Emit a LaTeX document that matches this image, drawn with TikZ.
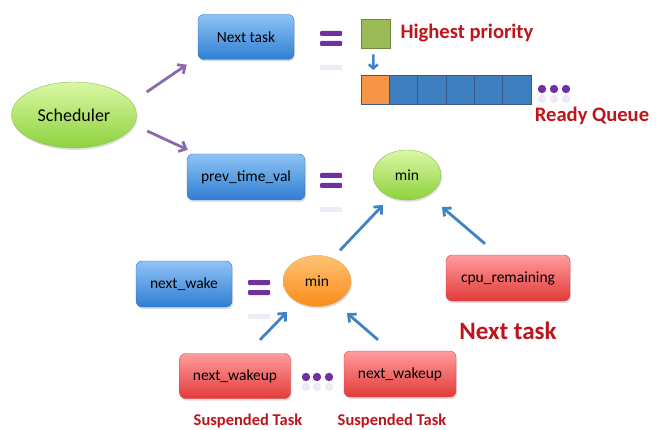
\documentclass[tikz,border=0pt]{standalone}
\usepackage{fontspec}
\setmainfont{Carlito}
\usetikzlibrary{shapes.geometric,arrows.meta,shadows}
\definecolor{purpA}{HTML}{8A6AAB}
\definecolor{purpEq}{HTML}{7030A0}
\definecolor{purpFaint}{HTML}{EEEBF4}
\definecolor{arrBlue}{HTML}{3F83C4}
\definecolor{redTxt}{HTML}{C0141C}
\definecolor{blueEdge}{HTML}{3A78C2}
\definecolor{qEdge}{HTML}{375B86}
\definecolor{blueTop}{HTML}{8FC3F5}
\definecolor{blueBot}{HTML}{2F7ED3}
\definecolor{redEdge}{HTML}{D04848}
\definecolor{redTop}{HTML}{FF9C9C}
\definecolor{redBot}{HTML}{E33A3A}
\definecolor{greenEdge}{HTML}{8CC04A}
\definecolor{greenTop}{HTML}{D9F8A4}
\definecolor{greenBot}{HTML}{8ED23E}
\definecolor{orangeEdge}{HTML}{F0A040}
\definecolor{orangeTop}{HTML}{FFC272}
\definecolor{orangeBot}{HTML}{F98C1A}
\definecolor{qBlue}{HTML}{3E7FBF}
\definecolor{qOrange}{HTML}{F79646}
\definecolor{hpGreen}{HTML}{9BBB59}
\definecolor{hpEdge}{HTML}{71893F}
\begin{document}
\begin{tikzpicture}[x=1pt,y=-1pt,
  shd/.style={drop shadow={opacity=0.25,shadow xshift=1pt,shadow yshift=-2pt}},
  bluebox/.style={rectangle,rounded corners=6pt,draw=blueEdge,top color=blueTop,bottom color=blueBot,
     minimum height=46pt,font=\fontsize{15.5}{18}\selectfont,shd},
  redbox/.style={rectangle,rounded corners=6pt,draw=redEdge,top color=redTop,bottom color=redBot,
     minimum height=46pt,font=\fontsize{15.5}{18}\selectfont,shd},
  greenell/.style={ellipse,draw=greenEdge,top color=greenTop,bottom color=greenBot,inner sep=0pt,shd},
  orangeell/.style={ellipse,draw=orangeEdge,top color=orangeTop,bottom color=orangeBot,inner sep=0pt,shd},
  parrow/.style={draw=purpA,line width=2.8pt,-{Straight Barb[length=6pt,width=11pt]}},
  barrow/.style={draw=arrBlue,line width=2.8pt,-{Straight Barb[length=6pt,width=11pt]}},
  redlbl/.style={text=redTxt,font=\bfseries},
  qcell/.style={rectangle,draw=qEdge,line width=0.8pt,fill=qBlue,minimum width=28.33pt,minimum height=29pt,inner sep=0pt,outer sep=0pt},
  eqbar/.style={fill=purpEq,rounded corners=1pt},
  dotc/.style={fill=purpEq},
]
\useasboundingbox (0,0) rectangle (663,430);

% nodes
\node[greenell,minimum width=125pt,minimum height=66pt,font=\fontsize{18}{21}\selectfont] (sched) at (74,115) {Scheduler};
\node[bluebox,minimum width=96pt,minimum height=45pt] (nt) at (246,37) {Next task};
\node[bluebox,minimum width=118pt] (ptv) at (246,177) {prev\_time\_val};
\node[bluebox,minimum width=96pt] (nw) at (184,284) {next\_wake};
\node[redbox,minimum width=124pt] (cpu) at (508,278) {cpu\_remaining};
\node[redbox,minimum width=111pt,minimum height=45pt] (nwu1) at (235,376) {next\_wakeup};
\node[redbox,minimum width=112pt] (nwu2) at (400,374) {next\_wakeup};
\node[greenell,minimum width=68pt,minimum height=50pt,font=\fontsize{15.5}{18}\selectfont] (min1) at (407,175) {min};
\node[orangeell,minimum width=68pt,minimum height=51pt,font=\fontsize{15.5}{18}\selectfont] (min2) at (317,281) {min};

% highest priority square and queue
\node[rectangle,draw=hpEdge,line width=0.8pt,fill=hpGreen,minimum size=29pt,inner sep=0pt] (hp) at (375.5,33.5) {};
\node[qcell,fill=qOrange] (q0) at (375.17,89.5) {};
\node[qcell,anchor=west] (q1) at (q0.east) {};
\node[qcell,anchor=west] (q2) at (q1.east) {};
\node[qcell,anchor=west] (q3) at (q2.east) {};
\node[qcell,anchor=west] (q4) at (q3.east) {};
\node[qcell,anchor=west] (q5) at (q4.east) {};

% labels
\node[redlbl,anchor=west,font=\bfseries\fontsize{20.6}{24}\selectfont] (lhp) at (397,33) {Highest priority};
\node[redlbl,font=\bfseries\fontsize{20.6}{24}\selectfont] (lrq) at (592,116) {Ready Queue};
\node[redlbl,font=\bfseries\fontsize{25}{29}\selectfont] (lnt) at (508,331) {Next task};
\node[redlbl,font=\bfseries\fontsize{16.5}{20}\selectfont] (ls1) at (248,421) {Suspended Task};
\node[redlbl,font=\bfseries\fontsize{16.5}{20}\selectfont] (ls2) at (392,421) {Suspended Task};

% equals signs with faint reflections
\foreach \x/\y in {331/38, 331/180, 259/287}{
  \fill[eqbar] (\x-11,\y-7) rectangle (\x+11,\y-2);
  \fill[eqbar] (\x-11,\y+3) rectangle (\x+11,\y+8);
  \fill[purpFaint] (\x-11,\y+27) rectangle (\x+11,\y+32);
}

% dots
\foreach \x/\y in {542/89, 554/89, 566/89, 306/377, 317/377, 329/377}{
  \fill[purpFaint] (\x,\y+10) circle (4.2pt);
  \fill[dotc] (\x,\y) circle (4.2pt);
}

% connectors
\draw[parrow] ([shift={(10,-23)}]sched.east) -- ([shift={(-11,5)}]nt.south west);
\draw[parrow] ([shift={(10.5,16)}]sched.east) -- ([shift={(1,-4)}]ptv.north west);
\draw[draw=arrBlue,line width=2.5pt,-{Straight Barb[length=4pt,width=9pt]},shorten <=6pt,shorten >=5pt] ([xshift=-2pt]hp.south) -- ([xshift=-2pt]q0.north);
\draw[barrow] ([shift={(23,-5)}]min2.north) -- ([shift={(-24,30)}]min1.center);
\draw[barrow] ([shift={(-23,-11)}]cpu.north) -- ([shift={(35,32)}]min1.center);
\draw[barrow] ([shift={(25,-13.5)}]nwu1.north) -- ([shift={(-30,31)}]min2.center);
\draw[barrow] ([shift={(-22,-11)}]nwu2.north) -- ([shift={(30,32)}]min2.center);
\end{tikzpicture}
\end{document}
